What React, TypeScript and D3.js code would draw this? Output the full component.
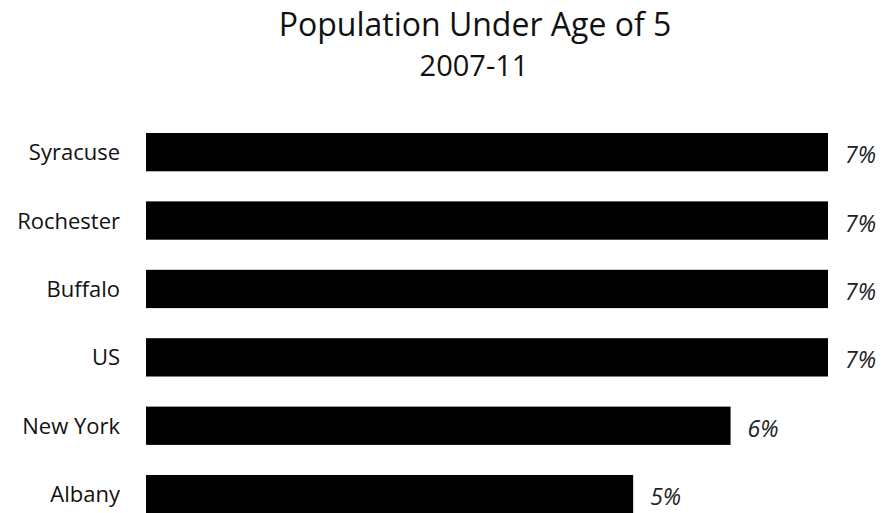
import React from "react";
import * as d3 from "d3";

const categories = ["Syracuse", "Rochester", "Buffalo", "US", "New York", "Albany"];
const values = [7, 7, 7, 7, 6, 5];
const valueLabels = ["7%", "7%", "7%", "7%", "6%", "5%"];
const title = "Population Under Age of 5";
const subtitle = "2007-11";

const W = 883;
const H = 513;
const FONT = "'Open Sans', 'Noto Sans', sans-serif";

export default function App() {
  const x = d3.scaleLinear().domain([0, 7]).range([146, 828]);
  const y = d3
    .scaleBand<string>()
    .domain(categories)
    .range([133, 513.3])
    .paddingInner(0.44)
    .paddingOuter(0);
  const bw = y.bandwidth();

  return (
    <svg
      width={W}
      height={H}
      style={{ position: "absolute", left: 0, top: 0, display: "block", background: "#fff" }}
    >
      <text x={475} y={36} textAnchor="middle" fontFamily={FONT} fontSize={32} fill="#111">
        {title}
      </text>
      <text x={474} y={76} textAnchor="middle" fontFamily={FONT} fontSize={29} fill="#111">
        {subtitle}
      </text>
      {categories.map((c, i) => {
        const yy = y(c)!;
        return (
          <g key={c}>
            <rect x={x(0)} y={yy} width={x(values[i]) - x(0)} height={bw} fill="#000" />
            <text
              x={120}
              y={yy + bw / 2 + 8}
              textAnchor="end"
              fontFamily={FONT}
              fontSize={22}
              fill="#111"
            >
              {c}
            </text>
            <text
              x={x(values[i]) + 17}
              y={yy + bw / 2 + 11}
              fontFamily={FONT}
              fontStyle="italic"
              fontSize={23}
              fill="#222"
            >
              {valueLabels[i]}
            </text>
          </g>
        );
      })}
    </svg>
  );
}
